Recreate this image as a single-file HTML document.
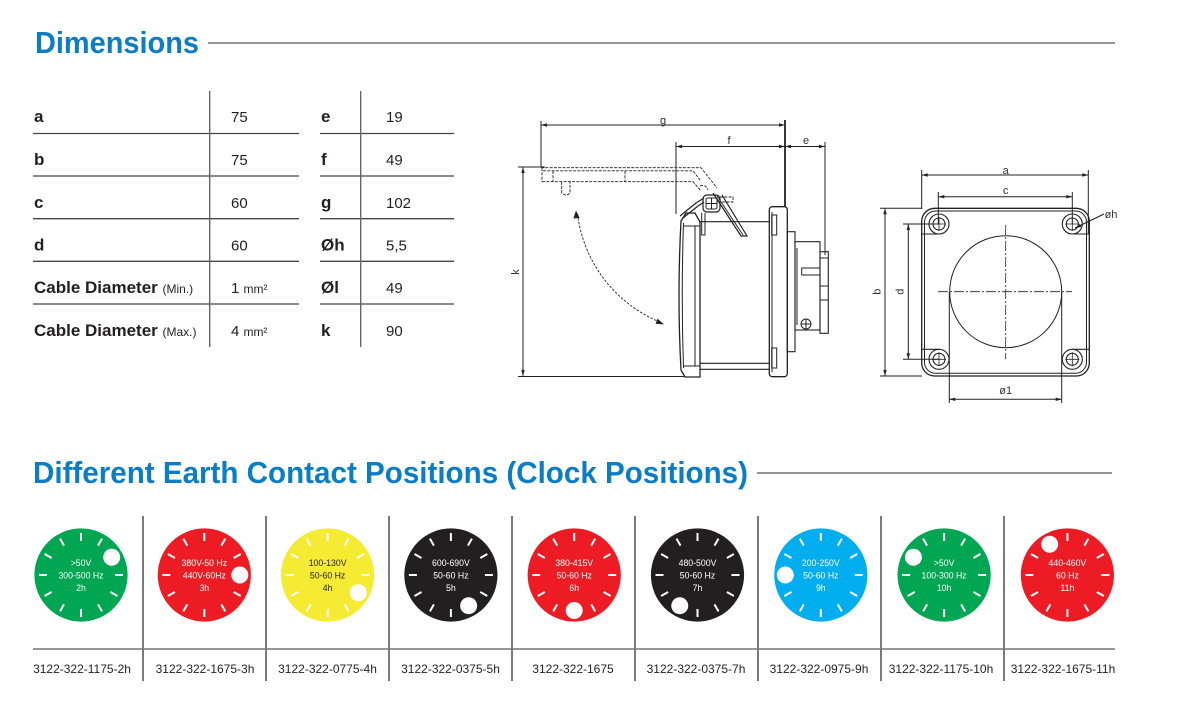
<!DOCTYPE html>
<html><head><meta charset="utf-8"><style>
html,body{margin:0;padding:0;background:#fff;}
svg{display:block;}
</style></head><body>
<svg width="1177" height="705" viewBox="0 0 1177 705" xmlns="http://www.w3.org/2000/svg" font-family="'Liberation Sans', Arial, sans-serif">
<rect width="1177" height="705" fill="#fff"/>

<!-- Titles -->
<text x="35" y="53" font-size="31" font-weight="bold" fill="#0B7DC5" textLength="164" lengthAdjust="spacingAndGlyphs">Dimensions</text>
<line x1="208" y1="43" x2="1115" y2="43" stroke="#555" stroke-width="1.3"/>

<text x="33" y="483" font-size="31" font-weight="bold" fill="#0B7DC5" textLength="715" lengthAdjust="spacingAndGlyphs">Different Earth Contact Positions (Clock Positions)</text>
<line x1="757" y1="473" x2="1112" y2="473" stroke="#555" stroke-width="1.3"/>

<!-- Table -->
<g stroke="#444" stroke-width="1.3">
  <line x1="33" y1="133.5" x2="299" y2="133.5"/>
  <line x1="33" y1="176" x2="299" y2="176"/>
  <line x1="33" y1="218.7" x2="299" y2="218.7"/>
  <line x1="33" y1="261.3" x2="299" y2="261.3"/>
  <line x1="33" y1="304" x2="299" y2="304"/>
  <line x1="320" y1="133.5" x2="454" y2="133.5"/>
  <line x1="320" y1="176" x2="454" y2="176"/>
  <line x1="320" y1="218.7" x2="454" y2="218.7"/>
  <line x1="320" y1="261.3" x2="454" y2="261.3"/>
  <line x1="320" y1="304" x2="454" y2="304"/>
</g>
<g stroke="#666" stroke-width="1.4">
  <line x1="209.7" y1="91" x2="209.7" y2="347"/>
  <line x1="360.7" y1="91" x2="360.7" y2="347"/>
</g>
<g fill="#231f20" font-size="17" font-weight="bold">
  <text x="34" y="122">a</text>
  <text x="34" y="165">b</text>
  <text x="34" y="208">c</text>
  <text x="34" y="250.5">d</text>
  <text x="34" y="293">Cable Diameter <tspan font-size="12" font-weight="normal">(Min.)</tspan></text>
  <text x="34" y="336">Cable Diameter <tspan font-size="12" font-weight="normal">(Max.)</tspan></text>
  <text x="321" y="122">e</text>
  <text x="321" y="165">f</text>
  <text x="321" y="208">g</text>
  <text x="321" y="250.5">Øh</text>
  <text x="321" y="293">Øl</text>
  <text x="321" y="336">k</text>
</g>
<g fill="#231f20" font-size="15">
  <text x="231" y="122">75</text>
  <text x="231" y="165">75</text>
  <text x="231" y="208">60</text>
  <text x="231" y="250.5">60</text>
  <text x="231" y="293">1 <tspan font-size="12">mm²</tspan></text>
  <text x="231" y="336">4 <tspan font-size="12">mm²</tspan></text>
  <text x="386" y="122">19</text>
  <text x="386" y="165">49</text>
  <text x="386" y="208">102</text>
  <text x="386" y="250.5">5,5</text>
  <text x="386" y="293">49</text>
  <text x="386" y="336">90</text>
</g>

<!-- Side view drawing -->
<g stroke="#222" stroke-width="1" fill="none">
  <!-- dimension lines -->
  <line x1="541" y1="125" x2="785" y2="125"/>
  <line x1="541" y1="121" x2="541" y2="167"/>
  <line x1="785" y1="120" x2="785" y2="207" stroke-width="1.8"/>
  <line x1="676" y1="146.5" x2="825" y2="146.5"/>
  <line x1="676" y1="142" x2="676" y2="214"/>
  <line x1="825" y1="142" x2="825" y2="255"/>
  <line x1="523" y1="167" x2="523" y2="376"/>
  <line x1="518" y1="167" x2="545" y2="167"/>
  <line x1="518" y1="376.5" x2="684" y2="376.5"/>
  <!-- dashed lid -->
  <g stroke-dasharray="3,1.3" stroke-width="0.9">
    <path d="M541,167.7 H701 L717,188"/>
    <path d="M543,170.8 H693 L700,180"/>
    <path d="M542,181.7 H693 L701,191"/>
    <path d="M542,168 V182"/>
    <path d="M553,171 V181.7 M625,171 V181.7"/>
    <path d="M561.7,181.7 V193 Q566,197 570,193 V181.7"/>
    <path d="M700,186 Q706,184 708,190 M720,197 H733 V202 H722"/>
  </g>
  <!-- hinge and bracket -->
  <path d="M680,216 L696,203 L704,198 M683,218 L698,206 L704,202" stroke-width="1.2"/>
  <rect x="703" y="195" width="17" height="17" rx="4" stroke-width="1.2"/>
  <rect x="706" y="198" width="11" height="11" rx="2"/>
  <path d="M706,203.5 H717 M711.5,198 V209"/>
  <path d="M713,193 L741,236 L747,236 L722,195" stroke-width="1.2"/>
  <path d="M717,196 L743,235"/>
  <path d="M701.7,213 V235 H705 V213"/>
  <!-- left flange -->
  <path d="M686,213 L681,221 Q677,296 681,370 L685,377 L700,377 L700,222 L695,213 Z" stroke-width="1.3"/>
  <path d="M683.5,223 Q681,296 683.5,368"/>
  <path d="M695,226 V366 M684,226 H700 M684,366 H700"/>
  <!-- cylinder -->
  <path d="M700,221.7 H769.5 M700,369.3 H769.5 M700,363.3 H769.5" stroke-width="1.1"/>
  <!-- right flange -->
  <rect x="769.3" y="206.7" width="18" height="170" rx="3" stroke-width="1.3"/>
  <path d="M772,212 V372"/>
  <rect x="771.7" y="215" width="5" height="20"/>
  <rect x="771.7" y="348" width="5" height="20"/>
  <!-- connector -->
  <rect x="787.3" y="231.7" width="7.7" height="120" stroke-width="1.1"/>
  <rect x="795" y="241.7" width="25" height="88.3" stroke-width="1.1"/>
  <rect x="820" y="251.7" width="8.3" height="81.6" stroke-width="1.1"/>
  <path d="M797,248 V325 M820,258 H828 M820,286 H828 M820,300 H828 M801.7,268 H820 V275 H801.7 Z"/>
  <circle cx="806" cy="324" r="5"/>
  <path d="M801,324 H811 M806,319 V329"/>
  <!-- arc arrow -->
  <path d="M577.5,214 A135,135 0 0 0 661,322.5" stroke-dasharray="2.5,1.5" stroke-width="0.9"/>
</g>
<g fill="#222">
  <path d="M541,125 L547,123.3 L547,126.7Z M785,125 L779,123.3 L779,126.7Z"/>
  <path d="M676,146.5 L682,144.8 L682,148.2Z M785,146.5 L791,144.8 L791,148.2Z M825,146.5 L819,144.8 L819,148.2Z M785,146.5 L779,144.8 L779,148.2Z"/>
  <path d="M523,167 L521.3,173 L524.7,173Z M523,376 L521.3,370 L524.7,370Z"/>
  <path d="M576,210.5 L573.3,218.5 L579.7,218Z"/>
  <path d="M664,324.5 L655.5,323.8 L657.6,318.6Z"/>
</g>
<g fill="#333" font-size="11" text-anchor="middle">
  <text x="663" y="124">g</text>
  <text x="729" y="144">f</text>
  <text x="806" y="144">e</text>
  <text transform="translate(519,272) rotate(-90)">k</text>
</g>

<!-- Front view drawing -->
<g stroke="#222" stroke-width="1" fill="none">
  <line x1="921.7" y1="175" x2="1088.3" y2="175"/>
  <line x1="921.7" y1="170" x2="921.7" y2="209"/>
  <line x1="1088.3" y1="170" x2="1088.3" y2="234"/>
  <line x1="938.3" y1="196.7" x2="1072.3" y2="196.7"/>
  <line x1="938.3" y1="192" x2="938.3" y2="224"/>
  <line x1="1072.3" y1="192" x2="1072.3" y2="224"/>
  <rect x="921.7" y="208.3" width="167.6" height="167.7" rx="13" stroke-width="1.3"/>
  <rect x="924.5" y="211" width="162" height="162.3" rx="11"/>
  <!-- holes -->
  <g stroke-width="1.1">
    <circle cx="939" cy="224" r="10"/><circle cx="939" cy="224" r="6"/>
    <circle cx="1072.3" cy="224" r="10"/><circle cx="1072.3" cy="224" r="6"/>
    <circle cx="939" cy="359.3" r="10"/><circle cx="939" cy="359.3" r="6"/>
    <circle cx="1072.3" cy="359.3" r="10"/><circle cx="1072.3" cy="359.3" r="6"/>
  </g>
  <path d="M932,224 H946 M939,217 V231 M1065.3,224 H1079.3 M1072.3,217 V231 M932,359.3 H946 M939,352.3 V366.3 M1065.3,359.3 H1079.3 M1072.3,352.3 V366.3" stroke-width="0.8"/>
  <path d="M922,234 H939 M1072.3,234 H1089 M922,349.3 H939 M1072.3,349.3 H1089" stroke-width="1.1"/>
  <!-- big circle -->
  <circle cx="1005.7" cy="291.7" r="56" stroke-width="1"/>
  <path d="M938,291.7 H1072 M1005.7,225 V359.3" stroke-dasharray="10,2,2,2" stroke-width="0.8"/>
  <!-- b / d -->
  <line x1="885" y1="208.3" x2="885" y2="376"/>
  <line x1="880" y1="208.3" x2="922" y2="208.3"/>
  <line x1="880" y1="376" x2="922" y2="376"/>
  <line x1="908.3" y1="224" x2="908.3" y2="359.3"/>
  <line x1="903" y1="224" x2="939" y2="224"/>
  <line x1="903" y1="359.3" x2="939" y2="359.3"/>
  <!-- Øl -->
  <line x1="949.3" y1="399.3" x2="1061.7" y2="399.3"/>
  <line x1="949.3" y1="292" x2="949.3" y2="403"/>
  <line x1="1061.7" y1="292" x2="1061.7" y2="403"/>
  <!-- Øh leader -->
  <line x1="1075" y1="228" x2="1104" y2="214"/>
</g>
<g fill="#222">
  <path d="M921.7,175 L927.7,173.3 L927.7,176.7Z M1088.3,175 L1082.3,173.3 L1082.3,176.7Z"/>
  <path d="M938.3,196.7 L944.3,195 L944.3,198.4Z M1072.3,196.7 L1066.3,195 L1066.3,198.4Z"/>
  <path d="M885,208.3 L883.3,214.3 L886.7,214.3Z M885,376 L883.3,370 L886.7,370Z"/>
  <path d="M908.3,224 L906.6,230 L910,230Z M908.3,359.3 L906.6,353.3 L910,353.3Z"/>
  <path d="M949.3,399.3 L955.3,397.6 L955.3,401Z M1061.7,399.3 L1055.7,397.6 L1055.7,401Z"/>
  <path d="M1075,228 L1080,224 L1081.4,227Z"/>
</g>
<g fill="#333" font-size="11" text-anchor="middle">
  <text x="1005.7" y="174">a</text>
  <text x="1005.7" y="194">c</text>
  <text transform="translate(880.5,291.7) rotate(-90)">b</text>
  <text transform="translate(903.5,291.7) rotate(-90)">d</text>
  <text x="1005.7" y="394">ø1</text>
  <text x="1111" y="218">øh</text>
</g>

<!-- Clock positions grid -->
<g stroke="#333" stroke-width="1.3">
  <line x1="143" y1="516" x2="143" y2="681"/>
  <line x1="266" y1="516" x2="266" y2="681"/>
  <line x1="389" y1="516" x2="389" y2="681"/>
  <line x1="512" y1="516" x2="512" y2="681"/>
  <line x1="635" y1="516" x2="635" y2="681"/>
  <line x1="758" y1="516" x2="758" y2="681"/>
  <line x1="881" y1="516" x2="881" y2="681"/>
  <line x1="1004" y1="516" x2="1004" y2="681"/>
</g>
<line x1="33" y1="649" x2="1115" y2="649" stroke="#777" stroke-width="1.6"/>

<!-- Circles -->
<g>
  <g transform="translate(81,575)">
    <circle r="46.6" fill="#00A651"/>
    <path d="M0,-34V-42 M17,-29.4L21,-36.4 M29.4,-17L36.4,-21 M34,0H42 M29.4,17L36.4,21 M17,29.4L21,36.4 M0,34V42 M-17,29.4L-21,36.4 M-29.4,17L-36.4,21 M-34,0H-42 M-29.4,-17L-36.4,-21 M-17,-29.4L-21,-36.4" stroke="#fff" stroke-width="2"/>
    <circle cx="30.7" cy="-17.75" r="8.5" fill="#fdfdfd"/>
    <g transform="scale(0.92,1)" font-size="9.5" fill="#fff" text-anchor="middle"><text y="-9">&gt;50V</text><text y="3.5">300-500 Hz</text><text y="16">2h</text></g>
  </g>
  <g transform="translate(204.3,575)">
    <circle r="46.6" fill="#ED1C24"/>
    <path d="M0,-34V-42 M17,-29.4L21,-36.4 M29.4,-17L36.4,-21 M34,0H42 M29.4,17L36.4,21 M17,29.4L21,36.4 M0,34V42 M-17,29.4L-21,36.4 M-29.4,17L-36.4,21 M-34,0H-42 M-29.4,-17L-36.4,-21 M-17,-29.4L-21,-36.4" stroke="#fff" stroke-width="2"/>
    <circle cx="35.5" cy="0" r="8.5" fill="#fdfdfd"/>
    <g transform="scale(0.92,1)" font-size="9.5" fill="#fff" text-anchor="middle"><text y="-9">380V-50 Hz</text><text y="3.5">440V-60Hz</text><text y="16">3h</text></g>
  </g>
  <g transform="translate(327.6,575)">
    <circle r="46.6" fill="#F5EB33"/>
    <path d="M0,-34V-42 M17,-29.4L21,-36.4 M29.4,-17L36.4,-21 M34,0H42 M29.4,17L36.4,21 M17,29.4L21,36.4 M0,34V42 M-17,29.4L-21,36.4 M-29.4,17L-36.4,21 M-34,0H-42 M-29.4,-17L-36.4,-21 M-17,-29.4L-21,-36.4" stroke="#fff" stroke-width="2"/>
    <circle cx="30.7" cy="17.75" r="8.5" fill="#fdfdfd"/>
    <g transform="scale(0.92,1)" font-size="9.5" fill="#231f20" text-anchor="middle"><text y="-9">100-130V</text><text y="3.5">50-60 Hz</text><text y="16">4h</text></g>
  </g>
  <g transform="translate(450.9,575)">
    <circle r="46.6" fill="#231F20"/>
    <path d="M0,-34V-42 M17,-29.4L21,-36.4 M29.4,-17L36.4,-21 M34,0H42 M29.4,17L36.4,21 M17,29.4L21,36.4 M0,34V42 M-17,29.4L-21,36.4 M-29.4,17L-36.4,21 M-34,0H-42 M-29.4,-17L-36.4,-21 M-17,-29.4L-21,-36.4" stroke="#fff" stroke-width="2"/>
    <circle cx="17.75" cy="30.7" r="8.5" fill="#fdfdfd"/>
    <g transform="scale(0.92,1)" font-size="9.5" fill="#fff" text-anchor="middle"><text y="-9">600-690V</text><text y="3.5">50-60 Hz</text><text y="16">5h</text></g>
  </g>
  <g transform="translate(574.2,575)">
    <circle r="46.6" fill="#ED1C24"/>
    <path d="M0,-34V-42 M17,-29.4L21,-36.4 M29.4,-17L36.4,-21 M34,0H42 M29.4,17L36.4,21 M17,29.4L21,36.4 M0,34V42 M-17,29.4L-21,36.4 M-29.4,17L-36.4,21 M-34,0H-42 M-29.4,-17L-36.4,-21 M-17,-29.4L-21,-36.4" stroke="#fff" stroke-width="2"/>
    <circle cx="0" cy="35.5" r="8.5" fill="#fdfdfd"/>
    <g transform="scale(0.92,1)" font-size="9.5" fill="#fff" text-anchor="middle"><text y="-9">380-415V</text><text y="3.5">50-60 Hz</text><text y="16">6h</text></g>
  </g>
  <g transform="translate(697.5,575)">
    <circle r="46.6" fill="#231F20"/>
    <path d="M0,-34V-42 M17,-29.4L21,-36.4 M29.4,-17L36.4,-21 M34,0H42 M29.4,17L36.4,21 M17,29.4L21,36.4 M0,34V42 M-17,29.4L-21,36.4 M-29.4,17L-36.4,21 M-34,0H-42 M-29.4,-17L-36.4,-21 M-17,-29.4L-21,-36.4" stroke="#fff" stroke-width="2"/>
    <circle cx="-17.75" cy="30.7" r="8.5" fill="#fdfdfd"/>
    <g transform="scale(0.92,1)" font-size="9.5" fill="#fff" text-anchor="middle"><text y="-9">480-500V</text><text y="3.5">50-60 Hz</text><text y="16">7h</text></g>
  </g>
  <g transform="translate(820.8,575)">
    <circle r="46.6" fill="#00AEEF"/>
    <path d="M0,-34V-42 M17,-29.4L21,-36.4 M29.4,-17L36.4,-21 M34,0H42 M29.4,17L36.4,21 M17,29.4L21,36.4 M0,34V42 M-17,29.4L-21,36.4 M-29.4,17L-36.4,21 M-34,0H-42 M-29.4,-17L-36.4,-21 M-17,-29.4L-21,-36.4" stroke="#fff" stroke-width="2"/>
    <circle cx="-35.5" cy="0" r="8.5" fill="#fdfdfd"/>
    <g transform="scale(0.92,1)" font-size="9.5" fill="#fff" text-anchor="middle"><text y="-9">200-250V</text><text y="3.5">50-60 Hz</text><text y="16">9h</text></g>
  </g>
  <g transform="translate(944.1,575)">
    <circle r="46.6" fill="#00A651"/>
    <path d="M0,-34V-42 M17,-29.4L21,-36.4 M29.4,-17L36.4,-21 M34,0H42 M29.4,17L36.4,21 M17,29.4L21,36.4 M0,34V42 M-17,29.4L-21,36.4 M-29.4,17L-36.4,21 M-34,0H-42 M-29.4,-17L-36.4,-21 M-17,-29.4L-21,-36.4" stroke="#fff" stroke-width="2"/>
    <circle cx="-30.7" cy="-17.75" r="8.5" fill="#fdfdfd"/>
    <g transform="scale(0.92,1)" font-size="9.5" fill="#fff" text-anchor="middle"><text y="-9">&gt;50V</text><text y="3.5">100-300 Hz</text><text y="16">10h</text></g>
  </g>
  <g transform="translate(1067.4,575)">
    <circle r="46.6" fill="#ED1C24"/>
    <path d="M0,-34V-42 M17,-29.4L21,-36.4 M29.4,-17L36.4,-21 M34,0H42 M29.4,17L36.4,21 M17,29.4L21,36.4 M0,34V42 M-17,29.4L-21,36.4 M-29.4,17L-36.4,21 M-34,0H-42 M-29.4,-17L-36.4,-21 M-17,-29.4L-21,-36.4" stroke="#fff" stroke-width="2"/>
    <circle cx="-17.75" cy="-30.7" r="8.5" fill="#fdfdfd"/>
    <g transform="scale(0.92,1)" font-size="9.5" fill="#fff" text-anchor="middle"><text y="-9">440-460V</text><text y="3.5">60 Hz</text><text y="16">11h</text></g>
  </g>
</g>

<!-- Part numbers -->
<g fill="#231f20" font-size="12" text-anchor="middle">
  <text x="82" y="673">3122-322-1175-2h</text>
  <text x="205" y="673">3122-322-1675-3h</text>
  <text x="327.5" y="673">3122-322-0775-4h</text>
  <text x="450.5" y="673">3122-322-0375-5h</text>
  <text x="573" y="673">3122-322-1675</text>
  <text x="696" y="673">3122-322-0375-7h</text>
  <text x="819" y="673">3122-322-0975-9h</text>
  <text x="941" y="673">3122-322-1175-10h</text>
  <text x="1063" y="673">3122-322-1675-11h</text>
</g>
</svg>
</body></html>
